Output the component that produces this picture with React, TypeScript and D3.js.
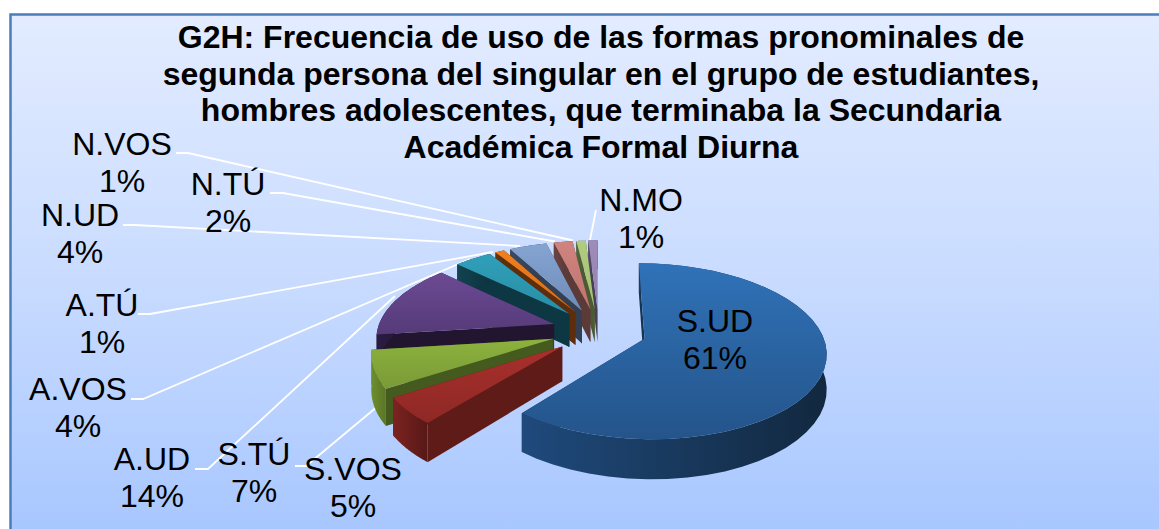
import React from "react";
import * as d3 from "d3";

const titleLines = [
  "G2H: Frecuencia de uso de las formas pronominales de",
  "segunda persona del singular en el grupo de estudiantes,",
  "hombres adolescentes, que terminaba la Secundaria",
  "Académica Formal Diurna",
];
const categories = ["S.UD", "S.VOS", "S.TÚ", "A.UD", "A.VOS", "A.TÚ", "N.UD", "N.TÚ", "N.VOS", "N.MO"];
const values = [61, 5, 7, 14, 4, 1, 4, 2, 1, 1];
const topLight = ["#3072b8", "#a8302c", "#8cb23e", "#6c4a94", "#2fa0ba", "#f0801e", "#86a4d2", "#d08480", "#b0cc80", "#a08cbc"];
const topDark = ["#24548a", "#8e2825", "#7a9a36", "#553a78", "#2a8ca4", "#d86c14", "#6f8cb8", "#c07470", "#a4c074", "#9280ac"];
const outerLight = ["#1f4a7c", "#7c2320", "#6f8e2e", "#2a1c40", "#12434f", "#6a3410", "#3a4a64", "#6a4442", "#566640", "#544a68"];
const outerDark = ["#12283f", "#561816", "#5a7526", "#1e1430", "#0c343e", "#5a2c0c", "#2e3c50", "#563634", "#465432", "#443c56"];
const sideColors = ["#163352", "#5e1b18", "#445a1e", "#21152f", "#0d3742", "#5e2e0c", "#343f52", "#5c3a38", "#4c5a34", "#484058"];

const labelAnchors = [
  [715, 321], [353, 469], [254, 454], [152, 459], [78, 389],
  [102, 305], [80, 215], [228, 184], [122, 144], [641, 200],
];
const leaders = [
  [[596, 210], [590, 240]],
  [[176, 153], [188, 153], [573, 240.5]],
  [[270, 193], [283, 193], [555, 241.5]],
  [[123, 225], [135, 225], [520, 246]],
  [[138, 314], [150, 314], [493, 252]],
  [[131, 399], [143, 399], [470, 259]],
  [[195, 469], [208, 469], [395, 296]],
  [[295, 466], [306, 466], [378, 406]],
];

const CX = 599, CY = 331, RX = 177, RY = 84, PERSP = 0.14, DEPTH = 34, EXPLODE = 0.27;

function project(X: number, Z: number, drop: number): [number, number] {
  const p = 1 / (1 - PERSP * Z);
  return [CX + RX * X * p, CY + RY * Z * p + drop * DEPTH * p];
}

type Slice = { i: number; start: number; end: number; ox: number; oz: number };

const arcs = d3.pie<number>().sort(null).startAngle(0).endAngle(2 * Math.PI)(values);
const slices: Slice[] = arcs.map((a, i) => {
  const mid = (a.startAngle + a.endAngle) / 2;
  return { i, start: a.startAngle, end: a.endAngle, ox: EXPLODE * Math.sin(mid), oz: -EXPLODE * Math.cos(mid) };
});

const path = d3.line<[number, number]>().curve(d3.curveLinearClosed);
const rim = (s: Slice, drop: number, reverse = false) => {
  const pts: [number, number][] = d3.range(0, 41).map((k) => {
    const t = s.start + ((s.end - s.start) * k) / 40;
    return project(s.ox + Math.sin(t), s.oz - Math.cos(t), drop);
  });
  return reverse ? pts.reverse() : pts;
};
const apex = (s: Slice, drop: number) => project(s.ox, s.oz, drop);
const edge = (s: Slice, t: number, drop: number) => project(s.ox + Math.sin(t), s.oz - Math.cos(t), drop);
const wall = (s: Slice, t: number) => path([apex(s, 0), edge(s, t, 0), edge(s, t, 1), apex(s, 1)]);

const drawOrder = [9, 8, 7, 6, 5, 4, 3, 0, 2, 1];
const leaderLine = d3.line<number[]>().x((d) => d[0]).y((d) => d[1]);

export default function App() {
  return (
    <svg width={1159} height={529} style={{ position: "absolute", left: 0, top: 0, display: "block" }}
      fontFamily="'Liberation Sans', Arial, sans-serif">
      <defs>
        <linearGradient id="bg" x1="0" y1="0" x2="0" y2="1">
          <stop offset="0" stopColor="#e3ecff" />
          <stop offset="0.5" stopColor="#c8dbff" />
          <stop offset="1" stopColor="#a5c5ff" />
        </linearGradient>
        {categories.map((_, i) => (
          <React.Fragment key={i}>
            <linearGradient id={`top${i}`} x1="0" y1="0" x2="0" y2="1">
              <stop offset="0" stopColor={topLight[i]} />
              <stop offset="1" stopColor={topDark[i]} />
            </linearGradient>
            <linearGradient id={`out${i}`} x1="0" y1="0" x2="1" y2="0">
              <stop offset="0" stopColor={outerLight[i]} />
              <stop offset="1" stopColor={outerDark[i]} />
            </linearGradient>
          </React.Fragment>
        ))}
      </defs>
      <rect width={1159} height={529} fill="#fff" />
      <rect x={10.5} y={14.5} width={1180} height={540} fill="url(#bg)" stroke="#4a7ebb" strokeWidth={2.5} />
      {titleLines.map((t, i) => (
        <text key={i} x={601} y={48 + i * 36.6} textAnchor="middle" fontSize={32} fontWeight="bold" fill="#000">{t}</text>
      ))}
      {leaders.map((l, i) => (
        <path key={i} d={leaderLine(l) ?? ""} fill="none" stroke="#fff" strokeWidth={1.8} />
      ))}
      {drawOrder.map((idx) => {
        const s = slices[idx];
        return (
          <g key={idx}>
            <path d={wall(s, s.end)} fill={sideColors[idx]} />
            <path d={wall(s, s.start)} fill={sideColors[idx]} />
            <path d={path([...rim(s, 0), ...rim(s, 1, true)]) ?? ""} fill={`url(#out${idx})`} />
            <path d={path([apex(s, 0), ...rim(s, 0)]) ?? ""} fill={`url(#top${idx})`} />
          </g>
        );
      })}
      {categories.map((c, i) => (
        <g key={c} fontSize={32} fill="#000" textAnchor="middle">
          <text x={labelAnchors[i][0]} y={labelAnchors[i][1] + 11}>{c}</text>
          <text x={labelAnchors[i][0]} y={labelAnchors[i][1] + 48}>{values[i]}%</text>
        </g>
      ))}
    </svg>
  );
}
